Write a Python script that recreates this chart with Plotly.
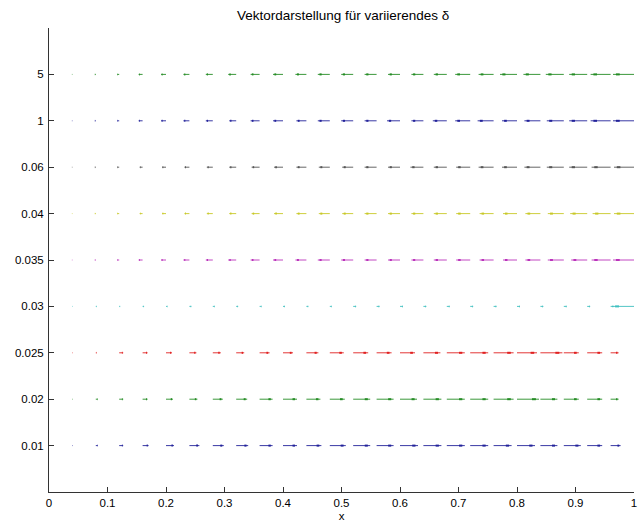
import plotly.graph_objects as go

# x positions of the arrow tails
x_pos = [round(0.04 * k, 2) for k in range(1, 26)]

# row labels (delta values), bottom to top
row_labels = ["0.01", "0.02", "0.025", "0.03", "0.035", "0.04", "0.06", "1", "5"]

# horizontal arrow components in x-data units (px/585)
u_d001 = [0.5, 2, 4, 6, 8, 10, 11, 12, 13, 14, 15, 16, 17, 17, 18, 18, 18, 18, 18, 18, 17, 17, 15, 10, 2]
u_d002 = [0.5, 2, 4, 5, 7, 8, 10, 11, 13, 14, 14, 15, 17, 17, 17, 18, 18, 18, 20, 22, 17, 15, 15, 8, 3]
u_d0025 = [0.5, 1, 4, 5, 6, 7, 8, 8, 10, 10, 12, 14, 15, 15, 15, 17, 18, 18, 20, 20, 22, 15, 15, 8, 4]
u_d003 = [0.5, 1, 1, 1.5, 1.5, 2, 2, 2, 2, 2, 2, 2, 3, 3, 3, 3, 3, 3, 3, 3, 3, 3, 3, 3, -22]
u_d0035 = [-0.5, -1, -2, -4, -5, -6, -7, -8, -9, -10, -11, -12, -12, -12, -12, -12, -13, -14, -14, -14, -15, -16, -16, -19, -21]
u_d004 = [-0.5, -1, -2, -3, -4, -5, -6, -7, -8, -9, -10, -11, -11, -12, -12, -12, -13, -14, -14, -14, -15, -16, -17, -18, -20]
u_d006 = [-0.5, -1, -2, -3, -4, -5, -6, -7, -8, -9, -10, -11, -11, -12, -12, -13, -13, -14, -15, -15, -16, -17, -18, -19, -20]
u_d1 = [-0.5, -1, -2, -4, -5, -6, -7, -7, -9, -10, -10, -12, -12, -12, -13, -12, -14, -15, -16, -15, -16, -17, -18, -20, -21]
u_d5 = [-0.5, -1, -2, -4, -5, -6, -7, -8, -9, -10, -11, -12, -12, -12, -12, -12, -13, -15, -15, -17, -17, -18, -18, -20, -21]

PX = 585.0  # pixels per x-unit used when reading values
rows = [u_d001, u_d002, u_d0025, u_d003, u_d0035, u_d004, u_d006, u_d1, u_d5]
colors = ["#22229a", "#258c25", "#e02020", "#40c0c0", "#bb33bb",
          "#c8c828", "#555555", "#22229a", "#258c25"]

fig = go.Figure()
for i, (uvals, col) in enumerate(zip(rows, colors)):
    yrow = i + 1
    sx, sy, hx, hy = [], [], [], []
    for x0, up in zip(x_pos, uvals):
        u = up / PX
        sx += [x0, x0 + u, None]
        sy += [yrow, yrow, None]
        hx += [x0 + 0.68 * u, x0 + 0.86 * u, None]
        hy += [yrow, yrow, None]
    fig.add_trace(go.Scatter(x=sx, y=sy, mode="lines", line=dict(color=col, width=0.9),
                             hoverinfo="skip", showlegend=False, cliponaxis=False))
    fig.add_trace(go.Scatter(x=hx, y=hy, mode="lines", line=dict(color=col, width=2),
                             hoverinfo="skip", showlegend=False, cliponaxis=False))

font = "Liberation Sans, Arial, sans-serif"
fig.update_layout(
    width=639, height=529,
    margin=dict(l=49, r=5, t=28, b=37, autoexpand=False),
    paper_bgcolor="white", plot_bgcolor="white",
    font=dict(family=font, size=11.5, color="black"),
    title=dict(text="Vektordarstellung für variierendes δ", x=0.537, xanchor="center",
               y=0.972, yanchor="middle", font=dict(family=font, size=13.5, color="black")),
    xaxis=dict(range=[0, 1], tickvals=[k / 10 for k in range(11)],
               ticktext=["0", "0.1", "0.2", "0.3", "0.4", "0.5", "0.6", "0.7", "0.8", "0.9", "1"],
               ticks="inside", ticklen=5, tickcolor="#333", showline=True, linecolor="#333",
               linewidth=1, showgrid=False, zeroline=False, mirror=False, automargin=False,
               ticklabeloverflow="allow",
               title=dict(text="x", standoff=4, font=dict(size=11.5))),
    yaxis=dict(range=[0, 10], tickvals=list(range(1, 10)), ticktext=row_labels,
               ticks="inside", ticklen=5, tickcolor="#333", showline=True, linecolor="#333",
               linewidth=1, showgrid=False, zeroline=False, mirror=False, automargin=False,
               ticklabelstandoff=2),
)
fig.write_html("out.html", config={"displayModeBar": False},
               post_script="document.body.style.margin='0';document.body.style.overflow='hidden';")
